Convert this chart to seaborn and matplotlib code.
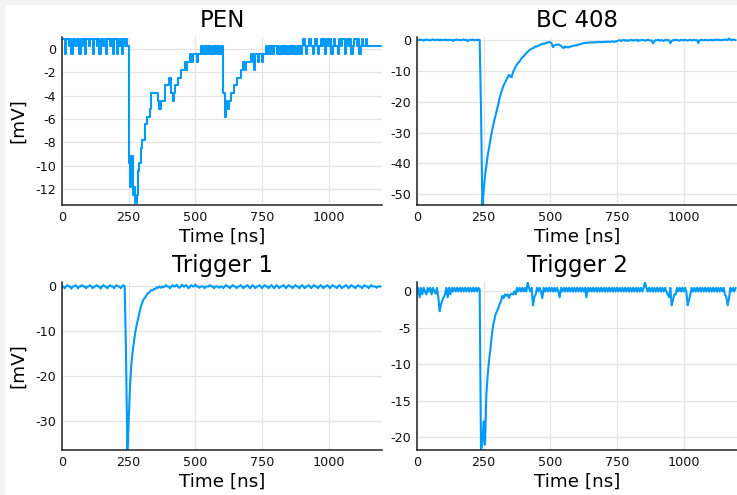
import numpy as np
import matplotlib
matplotlib.use('Agg')
import matplotlib.pyplot as plt
import seaborn as sns
from matplotlib.patches import Rectangle

sns.set_theme(style='white')
plt.rcParams['font.family'] = ['DejaVu Sans']
plt.rcParams['axes.unicode_minus'] = False

# scope sampling step [ns], 240 samples per trace
dt = 5

# PEN trace in ADC counts (1 count ~ 0.667 mV, baseline at 0.2 mV)
pen_lsb = 0.667
pen_offset = 0.2
pen_counts = [
    1, 1, -1, 1, 1, 0, 1, -1, 1, 1, 0, 1, 1, -1, 1, 0, 1, -1, 1, 1,            # 0-95
    0, 1, 1, -1, 1, 1, 0, 1, -1, 1, 1, 0, 1, -1, 1, 1, 0, 1, -1, 1,            # 100-195
    1, -1, 1, 0, 1, -1, 1, 0, 1, 0, -15, -18, -14, -19, -18, -20, -19, -16, -15, -13,  # 200-295
    -12, -12, -10, -10, -9, -9, -8, -6, -6, -6, -6, -6, -7, -8, -7, -7, -7, -5, -5, -5,  # 300-395
    -4, -4, -6, -7, -6, -5, -5, -4, -4, -3, -3, -3, -2, -3, -2, -2, -1, -2, -1, -1,  # 400-495
    -1, -2, -1, -1, 0, 0, -1, 0, -1, 0, -1, 0, -1, 0, -1, 0, -1, 0, -1, 0,     # 500-595
    0, -6, -9, -7, -8, -7, -7, -6, -6, -5, -5, -4, -4, -4, -3, -3, -2, -3, -2, -2,  # 600-695
    -2, -2, -1, -2, -3, -1, -1, -2, -1, -1, -2, -1, -1, 0, -1, 0, -1, 0, -1, 0,  # 700-795
    0, -1, 0, -1, 0, -1, 0, -1, 0, -1, 0, -1, 0, -1, 0, -1, 0, -1, 0, -1,      # 800-895
    0, 1, 0, -1, 0, 1, 1, 0, -1, 0, 1, 0, -1, 0, 1, 0, 1, -1, 0, 1,            # 900-995
    0, 1, -1, 0, 1, 0, 0, -1, 1, 0, 1, 1, -1, 0, 1, 0, 1, -1, 0, 1,            # 1000-1095
    1, 0, 1, -1, 0, 1, 0, 0, 1, 0, 0, 0, 0, 0, 0, 0, 0, 0, 0, 0,               # 1100-1195
]

# BC 408 trace [mV]
bc408_mv = [
    0.2, 0.0, 0.3, 0.1, 0.2, -0.1, 0.2, 0.3, 0.1, 0.2, 0.0, 0.2, 0.3, 0.1, 0.2, 0.1, 0.3, 0.0, 0.2, 0.1,
    0.2, 0.1, 0.3, 0.0, 0.2, 0.1, 0.2, -0.2, 0.2, 0.1, 0.3, 0.1, 0.2, 0.0, 0.2, 0.3, 0.1, 0.2, -0.3, 0.1,
    0.2, 0.1, 0.3, 0.0, 0.2, 0.1, 0.2, 0.1, -22.0, -53.5, -49.0, -44.0, -41.0, -37.5, -35.0, -32.5, -30.0, -28.0, -26.0, -24.2,
    -22.5, -20.8, -18.6, -17.2, -15.8, -14.6, -13.8, -12.9, -12.0, -11.2, -11.8, -12.0, -10.4, -9.4, -8.5, -7.8, -7.3, -6.8, -6.1, -5.5,
    -5.2, -4.6, -4.2, -3.7, -3.3, -3.0, -2.7, -2.6, -2.2, -2.0, -2.0, -1.7, -1.5, -1.3, -1.2, -1.0, -1.1, -0.8, -0.7, -0.5,
    -0.6, -1.0, -2.2, -1.6, -1.4, -1.5, -1.3, -1.5, -1.8, -2.2, -2.5, -2.0, -2.3, -2.1, -2.3, -2.0, -1.9, -1.8, -1.7, -1.6,
    -1.6, -1.4, -1.3, -1.2, -1.0, -0.9, -0.8, -0.9, -0.7, -0.8, -0.7, -0.6, -0.7, -0.6, -0.7, -0.5, -0.6, -0.5, -0.6, -0.5,
    -0.6, -0.5, -0.4, -0.5, -0.4, -0.5, -0.3, -0.4, -0.5, -0.3, -0.3, -0.1, 0.1, -0.2, 0.0, 0.2, -0.1, 0.1, -0.2, 0.1,
    0.0, 0.2, -0.1, 0.1, 0.0, 0.2, -0.2, 0.1, 0.0, 0.2, 0.1, -0.1, 0.0, 0.2, 0.1, -0.1, 0.0, -1.0, -0.3, 0.1,
    0.0, 0.2, -0.1, 0.1, 0.0, -0.2, 0.1, 0.2, 0.0, 0.1, -0.9, -0.2, 0.1, 0.0, 0.2, 0.1, 0.0, -0.1, 0.2, 0.1,
    0.0, 0.2, 0.1, -0.1, 0.1, 0.2, 0.0, 0.1, 0.2, 0.0, 0.1, -0.9, 0.0, 0.2, 0.1, 0.0, 0.2, 0.1, 0.0, 0.1,
    0.2, 0.1, 0.0, 0.2, 0.1, 0.3, 0.1, 0.2, 0.0, 0.2, 0.1, 0.3, 0.2, 0.1, 0.6, 0.2, 0.1, 0.3, 0.2, 0.1,
]

# Trigger 1 trace [mV]
trig1_mv = [
    0.0, 0.0, -0.4, 0.0, 0.3, 0.0, 0.0, -0.5, 0.0, 0.0, 0.3, 0.0, -0.4, 0.0, 0.0, 0.3, 0.0, 0.0, -0.4, 0.0,
    0.0, 0.3, 0.0, -0.4, 0.0, 0.0, 0.3, 0.0, 0.0, -0.5, 0.0, 0.3, 0.0, 0.0, -0.4, 0.0, 0.3, 0.0, 0.0, -0.4,
    0.0, 0.3, 0.0, 0.0, -0.4, 0.0, 0.3, 0.0, -15.0, -36.5, -30.0, -22.5, -17.5, -14.5, -12.3, -10.2, -8.6, -7.3, -5.9, -4.7,
    -3.8, -3.0, -2.6, -2.2, -1.6, -1.5, -1.1, -0.8, -0.9, -0.5, -0.6, -0.2, -0.3, 0.0, -0.3, 0.0, -0.2, 0.0, 0.3, 0.0,
    0.0, -0.4, 0.0, 0.3, 0.0, 0.0, 0.4, 0.0, -0.3, 0.0, 0.4, 0.0, 0.0, 0.3, 0.0, -0.4, 0.0, 0.3, 0.0, 0.0,
    0.4, 0.0, 0.0, -0.3, 0.0, 0.0, 0.0, -0.4, 0.0, 0.0, 0.0, 0.3, 0.0, 0.0, -0.4, 0.0, 0.0, 0.0, -0.3, 0.0,
    0.0, -0.4, 0.0, 0.3, 0.0, 0.0, -0.4, 0.0, 0.3, 0.0, 0.0, -0.4, 0.0, 0.0, 0.3, 0.0, -0.4, 0.0, 0.0, 0.3,
    0.0, -0.4, 0.0, 0.3, 0.0, -0.4, 0.0, 0.0, 0.3, 0.0, -0.4, 0.0, 0.3, 0.0, 0.0, -0.4, 0.0, 0.3, 0.0, -0.4,
    0.0, 0.3, 0.0, -0.4, 0.0, 0.0, 0.3, 0.0, -0.4, 0.0, 0.3, 0.0, 0.0, -0.4, 0.0, 0.3, 0.0, 0.0, -0.4, 0.0,
    0.3, 0.0, -0.4, 0.0, 0.0, 0.3, 0.0, -0.4, 0.0, 0.3, 0.0, 0.0, -0.4, 0.0, 0.3, 0.0, -0.4, 0.0, 0.0, 0.3,
    0.0, -0.4, 0.0, 0.3, 0.0, 0.0, -0.4, 0.0, 0.3, 0.0, -0.4, 0.0, 0.0, 0.3, 0.0, -0.4, 0.0, 0.3, 0.0, 0.0,
    -0.4, 0.0, 0.3, 0.0, 0.0, -0.4, 0.0, 0.3, 0.0, 0.0, -0.4, 0.0, 0.3, 0.0, 0.0, 0.0, -0.3, 0.0, 0.0, 0.0,
]

# Trigger 2 trace [mV]
trig2_mv = [
    -0.4, 0.5, -0.8, 0.5, -0.4, 0.5, 0.0, -0.4, 0.5, 0.0, 0.5, -0.4, 0.5, 0.0, -0.3, 0.5, -0.8, -2.7, -1.8, -1.2,
    -0.8, -0.4, 0.5, -0.8, 0.5, -0.4, 0.5, 0.0, 0.5, 0.0, 0.5, 0.0, 0.5, 0.0, 0.5, 0.0, 0.5, 0.0, 0.5, 0.0,
    0.5, 0.0, 0.5, 0.0, 0.5, 0.0, 0.5, 0.3, -21.7, -21.0, -17.8, -21.0, -14.2, -11.5, -9.5, -8.0, -6.2, -4.7, -3.9, -3.1,
    -2.7, -2.3, -1.7, -1.3, -0.6, -0.9, -0.4, -0.6, -0.4, -0.9, -0.4, -0.3, -0.4, 0.0, -0.4, 0.5, 0.0, 0.5, 0.0, 0.5,
    0.0, 0.5, 0.0, 1.25, 0.5, 0.0, 0.5, -1.9, -0.8, -0.4, 0.5, 0.0, 0.5, 0.0, -0.9, 0.5, 0.0, 0.5, 0.0, 0.5,
    0.0, 0.5, 0.0, 0.5, 0.0, 0.5, 0.0, -0.8, 0.5, 0.0, 0.5, 0.0, 0.5, 0.0, 0.5, 0.0, 0.5, 0.0, 0.5, 0.0,
    0.5, 0.0, 0.5, 0.0, 0.5, 0.0, 0.5, -0.8, 0.5, 0.0, 0.5, 0.0, 0.5, 0.0, 0.5, 0.0, 0.5, 0.0, 0.5, 0.0,
    0.5, 0.0, 0.5, 0.0, 0.5, 0.0, 0.5, 0.0, 0.5, 0.0, 0.5, 0.0, 0.5, 0.0, 0.5, 0.0, 0.5, 0.0, 0.5, 0.0,
    0.5, 0.0, 0.5, 0.0, 0.5, 0.0, 0.5, 0.0, 0.5, 0.0, 0.5, 1.25, 0.5, 0.0, 0.5, 0.0, 0.5, 0.0, 0.5, 0.0,
    0.5, 0.0, 0.5, 0.0, 0.5, 0.0, 0.5, 0.0, -0.4, -0.8, 0.5, -1.9, -1.2, -0.4, -0.4, 0.5, 0.0, 0.5, 0.0, 0.5,
    0.0, 0.5, 0.0, -1.9, -1.2, -0.4, 0.5, 0.0, 0.5, 0.0, 0.5, 0.0, 0.5, 0.0, 0.5, 0.0, 0.5, 0.0, 0.5, 0.0,
    0.5, 0.0, 0.5, 0.0, 0.5, 0.0, 0.5, 0.0, 0.5, 0.0, 0.5, -0.4, -0.8, -1.9, -1.0, 0.5, 0.0, 0.5, 0.0, 0.5,
]

time_ns = np.arange(len(pen_counts)) * dt
pen_mv = pen_offset + pen_lsb * np.array(pen_counts)

x_ticks = [0, 250, 500, 750, 1000]
titles = ['PEN', 'BC 408', 'Trigger 1', 'Trigger 2']
traces = [pen_mv, bc408_mv, trig1_mv, trig2_mv]
y_limits = [(-13.35, 1.0), (-53.6, 1.1), (-36.6, 1.0), (-21.75, 1.3)]
y_ticks = [[0, -2, -4, -6, -8, -10, -12],
           [0, -10, -20, -30, -40, -50],
           [0, -10, -20, -30],
           [0, -5, -10, -15, -20]]
# PEN is coarsely quantised, so draw it as steps
draw_styles = ['steps-post', 'default', 'default', 'default']

W, H = 737, 495
fig = plt.figure(figsize=(W / 100, H / 100), dpi=100, facecolor='#f4f4f4')
# white canvas with the thin grey strip on top and left like the screenshot
fig.patches.append(Rectangle((5 / W, 0), 1, 1 - 5 / H, transform=fig.transFigure,
                             facecolor='white', edgecolor='none', zorder=-10))

# axes boxes in pixels: left, top
boxes = [(62, 37), (417, 37), (62, 282), (417, 282)]
aw, ah = 320, 168
line_color = '#009afa'

for i in range(4):
    left, top = boxes[i]
    ax = fig.add_axes([left / W, 1 - (top + ah) / H, aw / W, ah / H])
    ax.set_facecolor('white')
    sns.lineplot(x=time_ns, y=traces[i], ax=ax, color=line_color, linewidth=1.5,
                 drawstyle=draw_styles[i])
    ax.set_xlim(0, 1200)
    ax.set_ylim(*y_limits[i])
    ax.set_xticks(x_ticks)
    ax.set_yticks(y_ticks[i])
    ax.set_xticklabels([str(v) for v in x_ticks])
    ax.set_yticklabels([str(v) for v in y_ticks[i]])
    ax.grid(True, color='#e4e4e4', linewidth=0.9)
    ax.set_axisbelow(True)
    for s in ['top', 'right']:
        ax.spines[s].set_visible(False)
    for s in ['left', 'bottom']:
        ax.spines[s].set_color('#222222')
        ax.spines[s].set_linewidth(1.1)
    ax.tick_params(direction='in', length=4, width=1, color='#222222',
                   labelsize=9.2, labelcolor='#111111', pad=4)
    ax.set_title(titles[i], fontsize=16.5, pad=7, color='black')
    ax.set_xlabel('Time [ns]', fontsize=13.2, labelpad=3, color='black')
    if i % 2 == 0:
        ax.set_ylabel('[mV]', fontsize=13.2, labelpad=6, color='black')
    else:
        ax.set_ylabel('')

fig.savefig('out.png', dpi=100, facecolor=fig.get_facecolor())
